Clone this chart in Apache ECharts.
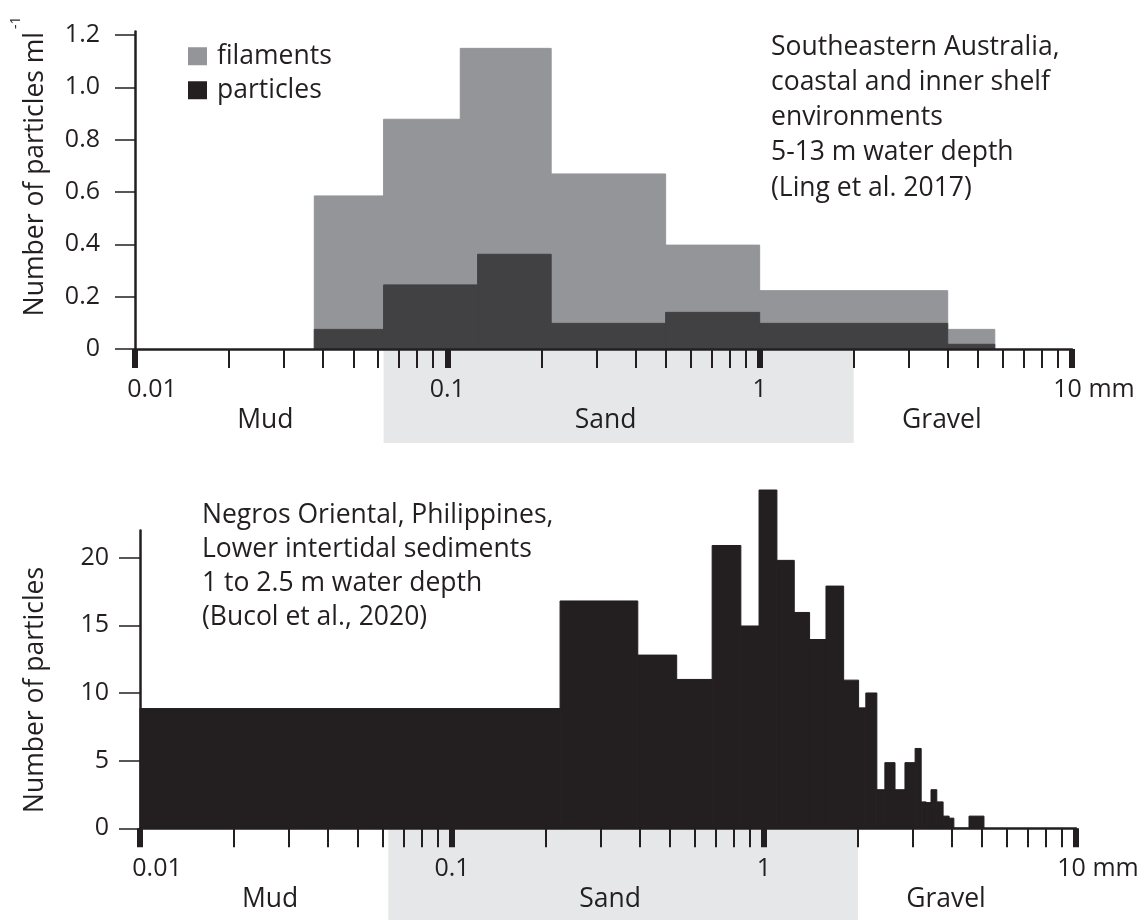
<!DOCTYPE html>
<html><head><meta charset="utf-8">
<script src="https://cdn.jsdelivr.net/npm/echarts@6/dist/echarts.min.js"></script>
<style>html,body{margin:0;padding:0;background:#fff}#c{width:1145px;height:920px}</style>
</head><body><div id="c"></div>
<script>
// ---------- data ----------
// Top panel (Ling et al. 2017): bin edges in mm and heights (particles per ml)
const topFilamentEdges = [0.0375, 0.0625, 0.11, 0.215, 0.5, 1, 4, 5.66];
const topFilamentValues = [0.585, 0.878, 1.149, 0.669, 0.397, 0.223, 0.075];
const topParticleEdges = [0.0375, 0.0625, 0.125, 0.215, 0.5, 1, 4, 5.66];
const topParticleValues = [0.075, 0.245, 0.362, 0.098, 0.14, 0.098, 0.018];
const topYTicks = [0, 0.2, 0.4, 0.6, 0.8, 1.0, 1.2];

// Bottom panel (Bucol et al., 2020): bin edges in mm and counts
const bottomEdges = [0.01, 0.222, 0.394, 0.525, 0.682, 0.843, 0.964, 1.10, 1.25, 1.40, 1.58, 1.80, 2.01, 2.12,
  2.30, 2.44, 2.63, 2.83, 3.05, 3.19, 3.31, 3.43, 3.58, 3.75, 3.92, 4.06, 4.54, 5.07];
const bottomCounts = [8.85, 16.8, 12.8, 11.0, 20.9, 14.95, 25.0, 19.8, 15.95, 13.95, 17.9, 10.95, 8.9, 10.0,
  2.85, 4.85, 2.85, 4.85, 5.9, 1.95, 1.9, 2.85, 1.95, 0.9, 0.75, 0, 0.9];
const bottomYTicks = [0, 5, 10, 15, 20];

// Shared grain-size axis
const majorTicks = [0.01, 0.1, 1, 10];
const majorTickLabels = ['0.01', '0.1', '1', '10 mm'];
const minorTicks = [0.02, 0.03, 0.04, 0.05, 0.06, 0.07, 0.08, 0.09,
  0.2, 0.3, 0.4, 0.5, 0.6, 0.7, 0.8, 0.9,
  2, 3, 4, 5, 6, 7, 8, 9];
const sizeClasses = ['Mud', 'Sand', 'Gravel'];
const classBounds = [0.01, 0.0625, 2, 10];
const shadedClass = 'Sand';

const seriesNames = ['filaments', 'particles'];
const topNote = ['Southeastern Australia,', 'coastal and inner shelf', 'environments', '5-13 m water depth', '(Ling et al. 2017)'];
const bottomNote = ['Negros Oriental, Philippines,', 'Lower intertidal sediments', '1 to 2.5 m water depth', '(Bucol et al., 2020)'];

// ---------- styling ----------
const FONT = '"Open Sans", "Noto Sans", sans-serif';
const INK = '#231f20';
const FS = 26.5;   // text
const FN = 25;     // tick numbers

function toBins(edges, vals) {
  return vals.map((v, i) => [edges[i], edges[i + 1], v]);
}
function barRender(color) {
  return function (params, api) {
    const p0 = api.coord([api.value(0), api.value(2)]);
    const p1 = api.coord([api.value(1), 0]);
    return { type: 'rect', shape: { x: p0[0], y: p0[1], width: p1[0] - p0[0], height: p1[1] - p0[1] },
      style: { fill: color, stroke: color, lineWidth: 1 } };
  };
}
const classDx = [6, -13, -21];
function classRender(bandH) {
  return function (params, api) {
    const i = params.dataIndex;
    const a = api.coord([api.value(0), 0]);
    const b = api.coord([api.value(1), 0]);
    const children = [];
    if (sizeClasses[i] === shadedClass) {
      children.push({ type: 'rect', shape: { x: a[0], y: a[1] + 1, width: b[0] - a[0], height: bandH }, style: { fill: '#e6e7e8' } });
    }
    children.push({ type: 'text', x: (a[0] + b[0]) / 2 + classDx[i], y: a[1] + 71,
      style: { text: sizeClasses[i], align: 'center', verticalAlign: 'middle', fontSize: FS, fontFamily: FONT, fill: INK } });
    return { type: 'group', children };
  };
}
function labelFmt(v) {
  const i = majorTicks.findIndex(t => Math.abs(Math.log10(t) - Math.log10(v)) < 1e-6);
  if (i < 0) return '';
  if (i === 0) return '{first|' + majorTickLabels[i] + '}';
  if (i === majorTicks.length - 1) return '{last|' + majorTickLabels[i] + '}';
  return '{n|' + majorTickLabels[i] + '}';
}
const txt = { fontSize: FS, fontFamily: FONT, color: INK };
const num = { fontSize: FN, fontFamily: FONT, color: INK };
function xAxesFor(g) {
  return [
    { type: 'log', logBase: 10, gridIndex: g, min: 0.01, max: 10, position: 'bottom', z: 10,
      axisLine: { show: true, onZero: false, lineStyle: { color: INK, width: 2.5 } },
      axisTick: { show: true, customValues: majorTicks, length: 19, lineStyle: { color: INK, width: 6 } },
      axisLabel: { show: true, customValues: majorTicks, margin: 28.5, formatter: labelFmt, ...num,
        rich: { n: { ...num }, first: { ...num, padding: [0, 0, 0, 34] }, last: { ...num, padding: [0, 0, 0, 44] } } },
      splitLine: { show: false }, minorTick: { show: false } },
    { type: 'log', logBase: 10, gridIndex: g, min: 0.01, max: 10, position: 'bottom', z: 10,
      axisLine: { show: false },
      axisTick: { show: true, customValues: minorTicks, length: 19, lineStyle: { color: INK, width: 2 } },
      axisLabel: { show: false }, splitLine: { show: false }, minorTick: { show: false } }
  ];
}

const option = {
  animation: false,
  title: [
    { text: topNote.join('\n'), left: 771, top: 29.4, padding: 0,
      textStyle: { ...txt, fontWeight: 'normal', lineHeight: 35.3 } },
    { text: bottomNote.join('\n'), left: 202, top: 498, padding: 0,
      textStyle: { ...txt, fontWeight: 'normal', lineHeight: 34 } }
  ],
  legend: {
    data: [{ name: seriesNames[0] }, { name: seriesNames[1], itemStyle: { color: INK } }],
    orient: 'vertical', left: 188, top: 42.75, padding: 0,
    itemWidth: 19, itemHeight: 18, itemGap: 7, icon: 'rect', selectedMode: false,
    textStyle: { ...txt, padding: [0, 0, 0, 5] }
  },
  grid: [
    { left: 135, top: 31.6, width: 937, height: 317.4 },
    { left: 140, top: 530.6, width: 936, height: 297.7 }
  ],
  xAxis: [...xAxesFor(0), ...xAxesFor(1)],
  yAxis: [
    { type: 'value', gridIndex: 0, min: 0, max: 1.213,
      axisLine: { show: true, lineStyle: { color: INK, width: 2.5 } },
      axisTick: { show: true, customValues: topYTicks, length: 20, lineStyle: { color: INK, width: 1.5 } },
      axisLabel: { customValues: topYTicks, margin: 35, ...num, formatter: v => (v === 0 ? '0' : v.toFixed(1)) },
      splitLine: { show: false },
      name: '{a|Number of particles ml}{s|-1}', nameLocation: 'middle', nameGap: 86,
      nameTextStyle: { ...txt, padding: [0, 0, 0, 48],
        rich: { a: { ...txt, verticalAlign: 'bottom' },
                s: { fontSize: 14, fontFamily: FONT, color: INK, verticalAlign: 'top', padding: [0, 0, 26, 3] } } } },
    { type: 'value', gridIndex: 1, min: 0, max: 22,
      axisLine: { show: true, lineStyle: { color: INK, width: 2.5 } },
      axisTick: { show: true, customValues: bottomYTicks, length: 21, lineStyle: { color: INK, width: 1.5 } },
      axisLabel: { customValues: bottomYTicks, margin: 31, ...num },
      splitLine: { show: false },
      name: 'Number of particles', nameLocation: 'middle', nameGap: 91,
      nameTextStyle: { ...txt, padding: [0, 21, 0, 0] } }
  ],
  series: [
    { name: 'classesTop', type: 'custom', xAxisIndex: 0, yAxisIndex: 0, clip: false, z: 1, silent: true,
      renderItem: classRender(93), encode: { x: [0, 1] },
      data: sizeClasses.map((n, i) => [classBounds[i], classBounds[i + 1], 0]) },
    { name: seriesNames[0], type: 'custom', xAxisIndex: 0, yAxisIndex: 0, clip: false, z: 2,
      itemStyle: { color: '#939598' }, renderItem: barRender('#939598'), encode: { x: [0, 1], y: 2 },
      data: toBins(topFilamentEdges, topFilamentValues) },
    { name: seriesNames[1], type: 'custom', xAxisIndex: 0, yAxisIndex: 0, clip: false, z: 3,
      itemStyle: { color: '#414143' }, renderItem: barRender('#414143'), encode: { x: [0, 1], y: 2 },
      data: toBins(topParticleEdges, topParticleValues) },
    { name: 'classesBottom', type: 'custom', xAxisIndex: 2, yAxisIndex: 1, clip: false, z: 1, silent: true,
      renderItem: classRender(95), encode: { x: [0, 1] },
      data: sizeClasses.map((n, i) => [classBounds[i], classBounds[i + 1], 0]) },
    { name: 'counts', type: 'custom', xAxisIndex: 2, yAxisIndex: 1, clip: false, z: 2,
      itemStyle: { color: INK }, renderItem: barRender(INK), encode: { x: [0, 1], y: 2 },
      data: toBins(bottomEdges, bottomCounts) }
  ]
};
const chart = echarts.init(document.getElementById('c'), null, { renderer: 'canvas' });
chart.setOption(option);
</script>
</body></html>
